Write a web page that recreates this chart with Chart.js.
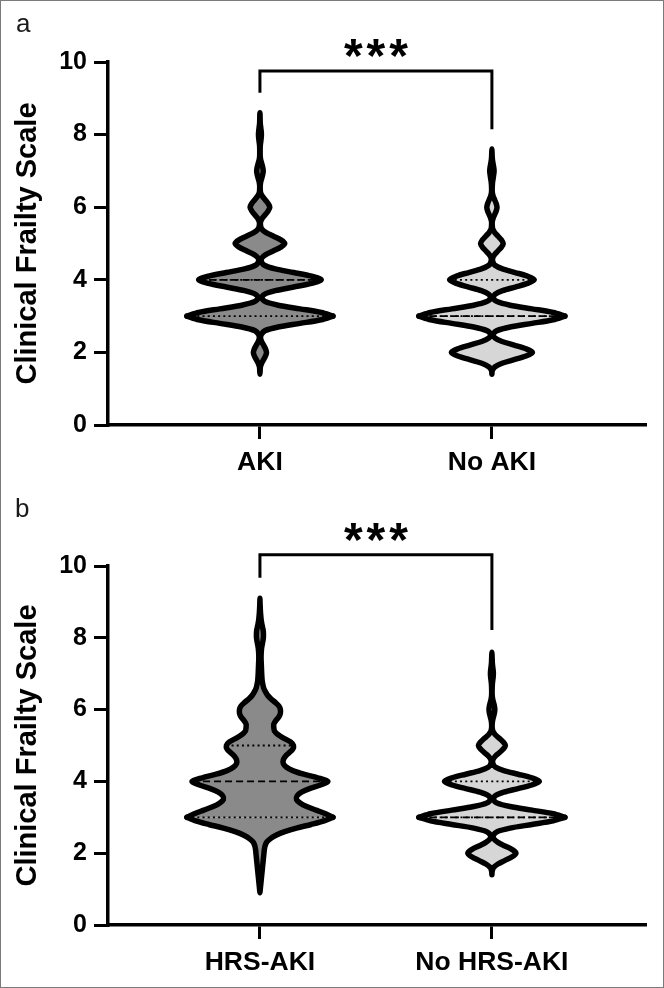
<!DOCTYPE html>
<html><head><meta charset="utf-8">
<script src="https://cdn.jsdelivr.net/npm/chart.js@4.4.1/dist/chart.umd.min.js"></script>
<style>
html,body{margin:0;padding:0;background:#fff;}
body{position:relative;width:664px;height:988px;overflow:hidden;}
canvas{position:absolute;left:0;}
#ca{top:0} #cb{top:494px}
#frame{position:absolute;left:0;top:0;width:664px;height:988px;box-sizing:border-box;border:1px solid #7a7a7a;pointer-events:none;}
.lab{position:absolute;font-family:"Liberation Sans",Arial,sans-serif;font-size:26px;color:#1a1a1a;line-height:1;}
</style></head><body>
<canvas id="ca" width="664" height="494"></canvas>
<canvas id="cb" width="664" height="494"></canvas>
<div class="lab" style="left:16px;top:10px">a</div>
<div class="lab" style="left:15px;top:495px">b</div>
<div id="frame"></div>
<script>
// ---------- data ----------
const yTicks = [0, 2, 4, 6, 8, 10];
const catsA = ['AKI', 'No AKI'];
const catsB = ['HRS-AKI', 'No HRS-AKI'];
const sigLabel = '***';

// violin outlines: [Clinical Frailty Scale value, relative half-width (1 = widest)]
const akiProfile = [[1.4,0],[1.5,.003],[1.6,.006],[1.7,.023],[1.8,.05],[1.9,.076],[2.0,.09],[2.1,.076],[2.2,.05],[2.3,.023],[2.4,.008],[2.5,.02],[2.6,.07],[2.7,.25],[2.8,.55],[2.9,.84],[3.0,1],[3.1,.84],[3.2,.55],[3.3,.25],[3.4,.07],[3.5,.025],[3.6,.06],[3.7,.21],[3.8,.462],[3.9,.706],[4.0,.84],[4.1,.706],[4.2,.462],[4.3,.21],[4.4,.06],[4.5,.02],[4.6,.025],[4.7,.085],[4.8,.187],[4.9,.286],[5.0,.34],[5.1,.286],[5.2,.187],[5.3,.085],[5.4,.024],[5.5,.008],[5.6,.009],[5.7,.034],[5.8,.074],[5.9,.113],[6.0,.135],[6.1,.113],[6.2,.074],[6.3,.034],[6.4,.009],[6.5,.004],[6.6,.004],[6.7,.011],[6.8,.025],[6.9,.038],[7.0,.045],[7.1,.038],[7.2,.025],[7.3,.011],[7.4,.004],[7.5,.003],[7.6,.003],[7.7,.005],[7.8,.011],[7.9,.017],[8.0,.02],[8.1,.017],[8.2,.011],[8.3,.005],[8.4,.003],[8.5,.002],[8.6,0]];
const noAkiProfile = [[1.4,0],[1.5,.005],[1.6,.039],[1.7,.139],[1.8,.305],[1.9,.466],[2.0,.555],[2.1,.466],[2.2,.305],[2.3,.139],[2.4,.04],[2.5,.02],[2.6,.07],[2.7,.25],[2.8,.55],[2.9,.84],[3.0,1],[3.1,.84],[3.2,.55],[3.3,.25],[3.4,.07],[3.5,.02],[3.6,.041],[3.7,.145],[3.8,.319],[3.9,.487],[4.0,.58],[4.1,.487],[4.2,.319],[4.3,.145],[4.4,.041],[4.5,.012],[4.6,.011],[4.7,.039],[4.8,.085],[4.9,.13],[5.0,.155],[5.1,.13],[5.2,.085],[5.3,.039],[5.4,.011],[5.5,.005],[5.6,.005],[5.7,.0175],[5.8,.0385],[5.9,.059],[6.0,.07],[6.1,.059],[6.2,.0385],[6.3,.0175],[6.4,.006],[6.5,.004],[6.6,.006],[6.7,.01],[6.8,.018],[6.9,.025],[7.0,.03],[7.1,.025],[7.2,.016],[7.3,.008],[7.4,.004],[7.5,.002],[7.6,0]];
const hrsProfile = [[0.9,0],[1.0,.005],[1.1,.01],[1.2,.015],[1.3,.02],[1.4,.025],[1.5,.03],[1.6,.035],[1.7,.04],[1.8,.045],[1.9,.05],[2.0,.055],[2.1,.06],[2.2,.07],[2.3,.09],[2.4,.14],[2.5,.22],[2.6,.34],[2.7,.50],[2.8,.70],[2.9,.88],[3.0,1],[3.1,.90],[3.2,.77],[3.3,.64],[3.4,.55],[3.5,.50],[3.6,.51],[3.7,.57],[3.8,.68],[3.9,.83],[4.0,.93],[4.1,.79],[4.2,.60],[4.3,.45],[4.4,.36],[4.5,.32],[4.6,.32],[4.7,.35],[4.8,.40],[4.9,.45],[5.0,.46],[5.1,.42],[5.2,.33],[5.3,.25],[5.4,.20],[5.5,.19],[5.6,.19],[5.7,.22],[5.8,.26],[5.9,.28],[6.0,.28],[6.1,.26],[6.2,.21],[6.3,.15],[6.4,.105],[6.5,.075],[6.6,.052],[6.7,.04],[6.8,.031],[6.9,.027],[7.0,.024],[7.1,.022],[7.2,.02],[7.3,.018],[7.4,.016],[7.5,.016],[7.6,.018],[7.7,.022],[7.8,.03],[7.9,.04],[8.0,.047],[8.1,.048],[8.2,.045],[8.3,.035],[8.4,.025],[8.5,.017],[8.6,.012],[8.7,.008],[8.8,.005],[8.9,.003],[9.0,.001],[9.1,0]];
const noHrsProfile = [[1.4,0],[1.5,.004],[1.6,.023],[1.7,.083],[1.8,.18],[1.9,.277],[2.0,.33],[2.1,.277],[2.2,.18],[2.3,.083],[2.4,.025],[2.5,.02],[2.6,.07],[2.7,.25],[2.8,.55],[2.9,.84],[3.0,1],[3.1,.84],[3.2,.55],[3.3,.25],[3.4,.07],[3.5,.022],[3.6,.046],[3.7,.163],[3.8,.358],[3.9,.546],[4.0,.65],[4.1,.546],[4.2,.358],[4.3,.163],[4.4,.046],[4.5,.013],[4.6,.013],[4.7,.046],[4.8,.102],[4.9,.155],[5.0,.185],[5.1,.155],[5.2,.102],[5.3,.046],[5.4,.013],[5.5,.004],[5.6,.004],[5.7,.01],[5.8,.022],[5.9,.034],[6.0,.04],[6.1,.034],[6.2,.022],[6.3,.01],[6.4,.004],[6.5,.003],[6.6,.004],[6.7,.006],[6.8,.011],[6.9,.017],[7.0,.02],[7.1,.017],[7.2,.011],[7.3,.006],[7.4,.004],[7.5,.002],[7.6,0]];

const mediansA = [4, 3];
const q1A = [3, 3];
const q3A = [4, 4];
const mediansB = [4, 3];
const q1B = [3, 3];
const q3B = [5, 4];

// bracket: [left leg end, bar height, right leg end]
const bracketA = [9.15, 9.75, 8.15];
const bracketB = [9.67, 10.31, 8.22];

// ---------- styling ----------
const FONT = '"Liberation Sans", Arial, Helvetica, sans-serif';
const X_MIN = 0.345, X_MAX = 2.66, HALF_MAX = 0.3147;
const FILLS = ['#8a8a8a', '#d6d6d6'];

function halves(profile, c) {
  let imax = 0;
  profile.forEach((p, i) => { if (p[1] > profile[imax][1]) imax = i; });
  const n = profile.length;
  const L = profile.map(p => ({x: c - p[1] * HALF_MAX, y: p[0]}));
  const R = profile.map(p => ({x: c + p[1] * HALF_MAX, y: p[0]}));
  const upper = [], lower = [];
  for (let i = imax; i < n; i++) upper.push(L[i]);
  for (let i = n - 2; i >= imax; i--) upper.push(R[i]);
  for (let i = imax; i >= 0; i--) lower.push(L[i]);
  for (let i = 1; i <= imax; i++) lower.push(R[i]);
  return [upper, lower];
}
function widthAt(profile, v) {
  const p = profile.find(q => Math.abs(q[0] - v) < 1e-6);
  return p ? p[1] * HALF_MAX : 0;
}

const starPlugin = {
  id: 'stars',
  afterDatasetsDraw(chart, args, opts) {
    const {ctx, scales: {x, y}} = chart;
    const px = (x.getPixelForValue(1) + x.getPixelForValue(2)) / 2;
    const py = y.getPixelForValue(opts.bar);
    ctx.save();
    ctx.font = 'bold 48px ' + FONT;
    ctx.fillStyle = '#000';
    ctx.textAlign = 'center';
    ctx.textBaseline = 'alphabetic';
    try { ctx.letterSpacing = '4px'; } catch (e) {}
    ctx.fillText(sigLabel, px + 2, py + 1);
    ctx.restore();
  }
};

function makeChart(id, cats, profiles, medians, q1, q3, bracket, topPad, xAxisH) {
  const datasets = [];
  const base = {pointRadius: 0, pointHoverRadius: 0, pointHitRadius: 0, tension: 0.3};
  profiles.forEach((prof, k) => {
    const c = k + 1;
    const [up, lo] = halves(prof, c);
    [up, lo].forEach(d => datasets.push(Object.assign({}, base, {
      data: d, fill: false, borderColor: '#000', borderWidth: 5.5,
      borderJoinStyle: 'round', borderCapStyle: 'round', order: 1
    })));
    [up, lo].forEach(d => datasets.push(Object.assign({}, base, {
      data: d, fill: 'shape', backgroundColor: FILLS[k],
      borderColor: 'rgba(0,0,0,0)', borderWidth: 0, order: 3
    })));
  });
  profiles.forEach((prof, k) => {
    const c = k + 1;
    const m = medians[k];
    const wm = widthAt(prof, m);
    datasets.push(Object.assign({}, base, {
      data: [{x: c - wm, y: m}, {x: c + wm, y: m}], tension: 0,
      borderColor: '#000', borderWidth: 1.8, borderDash: [7, 4], fill: false, order: 2
    }));
    [q1[k], q3[k]].forEach(q => {
      const wq = widthAt(prof, q);
      datasets.push(Object.assign({}, base, {
        data: [{x: c - wq, y: q}, {x: c + wq, y: q}], tension: 0,
        borderColor: '#000', borderWidth: 1.8, borderDash: [2, 3.2], fill: false, order: 2.5
      }));
    });
  });
  datasets.push(Object.assign({}, base, {
    data: [{x: 1, y: bracket[0]}, {x: 1, y: bracket[1]}, {x: 2, y: bracket[1]}, {x: 2, y: bracket[2]}],
    tension: 0, borderColor: '#000', borderWidth: 3, borderJoinStyle: 'miter', borderCapStyle: 'butt',
    fill: false, clip: false, order: 0
  }));

  const gridOpts = {drawOnChartArea: false, drawTicks: true, tickLength: 14, tickWidth: 3, tickColor: '#000', color: '#000', lineWidth: 3};
  const borderOpts = {display: true, color: '#000', width: 3.5};

  return new Chart(document.getElementById(id), {
    type: 'line',
    data: {datasets},
    plugins: [starPlugin],
    options: {
      responsive: false, animation: false, devicePixelRatio: 1, events: [],
      layout: {padding: {left: 0, right: 19, top: topPad, bottom: 0}},
      plugins: {legend: {display: false}, tooltip: {enabled: false}, stars: {bar: bracket[1]}},
      scales: {
        x: {
          type: 'linear', min: X_MIN, max: X_MAX,
          afterBuildTicks: s => { s.ticks = cats.map((_, i) => ({value: i + 1})); },
          afterFit: s => { s.height = xAxisH; },
          ticks: {callback: v => cats[Math.round(v) - 1] ?? '', font: {family: FONT, size: 26.5, weight: 'bold'},
                  color: '#000', padding: 8, maxRotation: 0, autoSkip: false},
          grid: gridOpts, border: borderOpts
        },
        y: {
          type: 'linear', min: 0, max: 10,
          afterBuildTicks: s => { s.ticks = yTicks.map(v => ({value: v})); },
          afterFit: s => { s.width = 108; },
          ticks: {font: {family: FONT, size: 25, weight: 'bold'}, color: '#000', padding: 7},
          grid: gridOpts, border: borderOpts,
          title: {display: true, text: 'Clinical Frailty Scale', color: '#000',
                  font: {family: FONT, size: 29, weight: 'bold'}, padding: {top: 11, bottom: 0}}
        }
      }
    }
  });
}

makeChart('ca', catsA, [akiProfile, noAkiProfile], mediansA, q1A, q3A, bracketA, 62, 69);
makeChart('cb', catsB, [hrsProfile, noHrsProfile], mediansB, q1B, q3B, bracketB, 72, 63);
</script>
</body></html>
